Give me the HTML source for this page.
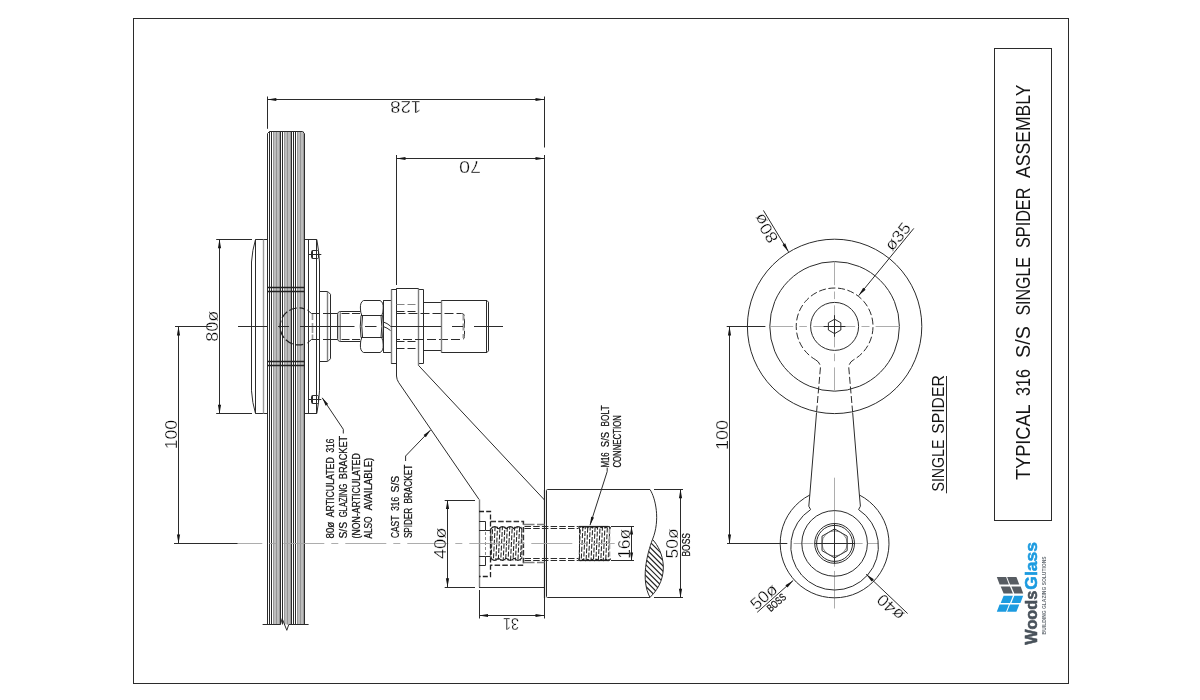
<!DOCTYPE html>
<html lang="en">
<head>
<meta charset="utf-8">
<title>Typical 316 S/S Single Spider Assembly</title>
<style>
html,body{margin:0;padding:0;background:#fff;}
body{width:1200px;height:700px;overflow:hidden;font-family:"Liberation Sans",sans-serif;}
svg{display:block;font-family:"Liberation Sans",sans-serif;}
.k{fill:none;stroke:#2b2b2b;stroke-width:1;}
.k2{fill:none;stroke:#222;stroke-width:1.3;}
.k3{fill:none;stroke:#333;stroke-width:1.5;}
.k5{fill:none;stroke:#555;stroke-width:0.7;}
.g2{fill:none;stroke:#8c8c8c;stroke-width:0.8;}
.g3{fill:none;stroke:#9a9a9a;stroke-width:1.4;}
.g4{fill:none;stroke:#9a9a9a;stroke-width:2;}
.g4n{fill:none;stroke:#9a9a9a;stroke-width:1.6;}
.g5{fill:none;stroke:#7e7e7e;stroke-width:1.4;}
.g5d{fill:none;stroke:#858585;stroke-width:1.2;}
.kt{fill:none;stroke:#222;stroke-width:1.05;}
.k4{fill:none;stroke:#222;stroke-width:1.2;}
.g4t{fill:none;stroke:#8a8a8a;stroke-width:1;}
.c{fill:none;stroke:#a4a4a4;stroke-width:0.9;}
.ah{fill:#161616;stroke:none;}
.t{fill:#000;stroke:#fff;stroke-width:0.34;}
.b{fill:#111;stroke:#111;stroke-width:0.25;}
.tt{fill:#151515;stroke:none;}
</style>
</head>
<body>
<svg width="1200" height="700" viewBox="0 0 1200 700">
<g style="will-change:opacity" opacity="0.9999">
<rect class="k" x="133.5" y="18.5" width="935" height="665"/>
<rect class="k" x="994.5" y="48.5" width="57" height="472"/>
<rect x="273.2" y="131.5" width="6.60" height="493.00" fill="#bcbcbc"/>
<line class="g2" x1="273.50" y1="131.50" x2="273.50" y2="624.50"/>
<line class="g2" x1="276.50" y1="131.50" x2="276.50" y2="624.50"/>
<line class="g2" x1="279.50" y1="131.50" x2="279.50" y2="624.50"/>
<rect x="284.6" y="131.5" width="6.00" height="493.00" fill="#bcbcbc"/>
<line class="g2" x1="284.50" y1="131.50" x2="284.50" y2="624.50"/>
<line class="g2" x1="287.50" y1="131.50" x2="287.50" y2="624.50"/>
<line class="g2" x1="290.50" y1="131.50" x2="290.50" y2="624.50"/>
<rect x="297.2" y="131.5" width="6.40" height="493.00" fill="#bcbcbc"/>
<line class="g2" x1="297.50" y1="131.50" x2="297.50" y2="624.50"/>
<line class="g2" x1="300.50" y1="131.50" x2="300.50" y2="624.50"/>
<line class="g2" x1="303.50" y1="131.50" x2="303.50" y2="624.50"/>
<line class="k" x1="269.50" y1="131.50" x2="269.50" y2="624.50"/>
<line class="k" x1="271.50" y1="131.50" x2="271.50" y2="624.50"/>
<line class="k" x1="280.50" y1="131.50" x2="280.50" y2="624.50"/>
<line class="k" x1="282.50" y1="131.50" x2="282.50" y2="624.50"/>
<line class="k" x1="291.50" y1="131.50" x2="291.50" y2="624.50"/>
<line class="k" x1="293.50" y1="131.50" x2="293.50" y2="624.50"/>
<line class="k" x1="295.50" y1="131.50" x2="295.50" y2="624.50"/>
<path class="k" d="M267.5,624.5 L267.5,133.5 L269.5,131.5 L302.5,131.5 L304.5,133.5 L304.5,624.5"/>
<path class="k" d="M262.6,624.5 L280.4,624.5 L282.2,618.6 L286.8,630.3 L288.8,624.5 L308.6,624.5"/>
<line class="k2" x1="267.50" y1="287.50" x2="304.50" y2="287.50"/>
<line class="k2" x1="267.50" y1="291.50" x2="304.50" y2="291.50"/>
<line class="k2" x1="267.50" y1="361.50" x2="304.50" y2="361.50"/>
<line class="k2" x1="267.50" y1="365.50" x2="304.50" y2="365.50"/>
<path class="k" d="M267.5,239.5 L255.5,239.5 Q252.3,250 251.5,262 L251.5,390.8 Q252.3,403 255.5,413.5 L267.5,413.5"/>
<line class="k" x1="255.50" y1="239.50" x2="255.50" y2="413.50"/>
<line class="g3" x1="263.50" y1="239.50" x2="263.50" y2="413.50"/>
<path class="k" d="M304.5,239.5 L316.8,239.5 Q318.8,250 319.5,262 L319.5,390.8 Q318.8,403 316.8,413.5 L304.5,413.5"/>
<line class="k" x1="308.50" y1="239.50" x2="308.50" y2="413.50"/>
<line class="k" x1="316.50" y1="239.50" x2="316.50" y2="413.50"/>
<rect class="k" x="311.5" y="250.50" width="7" height="8" rx="1"/>
<line class="k" x1="312.50" y1="250.50" x2="312.50" y2="258.50"/>
<line class="k" x1="308.80" y1="254.50" x2="321.30" y2="254.50"/>
<rect class="k" x="311.5" y="395.50" width="7" height="8" rx="1"/>
<line class="k" x1="312.50" y1="395.50" x2="312.50" y2="403.50"/>
<line class="k" x1="308.80" y1="399.50" x2="321.30" y2="399.50"/>
<path class="k" d="M319.5,291.5 L327.8,291.5 L330.5,294.3 L330.5,358.7 L327.8,361.5 L319.5,361.5"/>
<line class="g5" x1="327.50" y1="291.50" x2="327.50" y2="361.50"/>
<path class="k4" d="M304.32,308.81 A18.5,18.5 0 1 0 304.32,343.99" stroke-dasharray="8 2.5" stroke-dashoffset="3"/>
<path class="k" d="M307.3,310 L311.5,313.5"/>
<path class="k" d="M307.3,343 L311.5,339.5"/>
<line class="g4n" x1="312.50" y1="313.50" x2="312.50" y2="339.50" stroke-dasharray="6.5 3 10 1.5 4.5 3"/>
<line class="k" x1="311.50" y1="313.50" x2="319.20" y2="313.50"/>
<line class="k" x1="323.00" y1="313.50" x2="337.60" y2="313.50"/>
<line class="k" x1="311.50" y1="339.50" x2="319.20" y2="339.50"/>
<line class="k" x1="323.00" y1="339.50" x2="337.60" y2="339.50"/>
<path class="k" d="M360.5,311.5 L340.2,311.5 Q337.6,311.8 337.6,314.2 L337.6,338.8 Q337.6,341.2 340.2,341.5 L360.5,341.5"/>
<rect x="338.2" y="313.2" width="2.3" height="26.6" fill="#c4c4c4"/>
<line class="g4t" x1="340.50" y1="312.20" x2="340.50" y2="340.80"/>
<line class="k" x1="341.50" y1="313.50" x2="360.50" y2="313.50" stroke-dasharray="8 2.5"/>
<line class="k" x1="341.50" y1="339.50" x2="360.50" y2="339.50" stroke-dasharray="8 2.5"/>
<path class="k" d="M363.6,300.5 L380,300.5 Q383.5,302.0 383.2,308.0 Q383.2,312.5 381.8,315.5 M363.6,300.5 Q360.09999999999997,302.0 360.4,308.0 Q360.4,312.5 361.8,315.5"/>
<path class="k" d="M363.6,352.5 L380,352.5 Q383.5,351.0 383.2,345.0 Q383.2,340.5 381.8,337.5 M363.6,352.5 Q360.09999999999997,351.0 360.4,345.0 Q360.4,340.5 361.8,337.5"/>
<path class="k" d="M361.0,315.5 Q359.5,326.4 361.0,337.5 M362.6,315.5 Q361.0,326.4 362.6,337.5"/>
<path class="k" d="M382.6,315.5 Q384.09999999999997,326.4 382.6,337.5 M381.0,315.5 Q382.6,326.4 381.0,337.5"/>
<line class="k" x1="361.00" y1="315.50" x2="382.60" y2="315.50"/>
<line class="k" x1="361.00" y1="337.50" x2="382.60" y2="337.50"/>
<path class="k" d="M383.2,300.5 L391,300.5 M383.2,352.5 L391,352.5"/>
<line class="k" x1="383.50" y1="300.50" x2="383.50" y2="352.50"/>
<path class="k" d="M383.4,322 Q387,323 390.6,326.2 M383.4,326.6 Q387,327.6 390.6,330.6"/>
<path class="k" d="M391.2,289.5 L396.5,289.5 L396.5,288.5 L418.5,288.5 L418.5,289.5 L423.5,289.5 L423.5,363.5 L418.5,363.5"/>
<line class="g5" x1="391.50" y1="289.50" x2="391.50" y2="363.50"/>
<line class="k" x1="391.20" y1="363.50" x2="396.50" y2="363.50"/>
<line class="k" x1="396.50" y1="288.50" x2="396.50" y2="376.00"/>
<line class="g5" x1="418.50" y1="288.50" x2="418.50" y2="365.40"/>
<line class="g5d" x1="396.50" y1="304.50" x2="418.50" y2="304.50" stroke-dasharray="8 3"/>
<line class="k" x1="396.50" y1="348.50" x2="418.50" y2="348.50" stroke-dasharray="8 3"/>
<line class="k" x1="396.50" y1="311.50" x2="418.50" y2="311.50" stroke-dasharray="8 3"/>
<line class="k" x1="396.50" y1="341.50" x2="418.50" y2="341.50" stroke-dasharray="8 3"/>
<path class="k" d="M396.5,313.5 L461.5,313.5 Q464.5,313.5 464.5,316.5 L464.5,336.5 Q464.5,339.5 461.5,339.5 L396.5,339.5" stroke-dasharray="9 3"/>
<line class="g4" x1="463.50" y1="315.00" x2="463.50" y2="338.00" stroke-dasharray="5.5 3 7 3.5 4.5 3"/>
<path class="k" d="M423.5,302.5 L441.2,302.5 M423.5,350.5 L441.2,350.5"/>
<path class="k" d="M441.2,300.5 L487,300.5 L488.5,302.2 L488.5,350.8 L487,352.5 L441.2,352.5"/>
<line class="g5" x1="441.50" y1="300.50" x2="441.50" y2="352.50"/>
<line class="k" x1="486.50" y1="300.50" x2="486.50" y2="352.50"/>
<line class="k" x1="238.00" y1="326.50" x2="268.00" y2="326.50"/>
<line class="k" x1="278.00" y1="326.50" x2="289.00" y2="326.50"/>
<line class="k" x1="300.00" y1="326.50" x2="354.50" y2="326.50"/>
<line class="k" x1="365.00" y1="326.50" x2="376.50" y2="326.50"/>
<line class="k" x1="390.50" y1="326.50" x2="441.20" y2="326.50"/>
<line class="k" x1="452.00" y1="326.50" x2="463.00" y2="326.50"/>
<line class="k" x1="474.00" y1="326.50" x2="503.00" y2="326.50"/>
<path class="k" d="M396.5,376 Q396.7,379.5 398.6,382.4 L479,499.4"/>
<path class="k" d="M418.5,365.4 L544.5,500"/>
<line class="g5" x1="479.50" y1="499.40" x2="479.50" y2="587.20"/>
<line class="k" x1="479.00" y1="587.50" x2="544.50" y2="587.50"/>
<path class="k2" d="M479,511.5 L490.5,511.5 L490.5,576.5 L479,576.5" stroke-dasharray="5 2.2"/>
<path class="k3" d="M490.5,521.4 L523.4,521.4 L523.4,565.3 L490.5,565.3" stroke-dasharray="5.5 2.2"/>
<path class="k" d="M479,521.5 L485.5,521.5 L485.5,530.5 L490.5,530.5 M479,530.5 L485.5,530.5"/>
<path class="k" d="M479,565.5 L485.5,565.5 L485.5,556.5 L490.5,556.5 M479,556.5 L485.5,556.5"/>
<line class="g4t" x1="485.50" y1="532.00" x2="485.50" y2="555.00" stroke-dasharray="3 2"/>
<line class="k" x1="544.50" y1="96.50" x2="544.50" y2="147.50"/>
<line class="k" x1="544.50" y1="155.00" x2="544.50" y2="618.50"/>
<line class="k4" x1="544.50" y1="490.00" x2="544.50" y2="598.00"/>
<path class="k" d="M650,489.5 L547.5,489.5 Q546.5,489.5 546.5,490.5 L546.5,596.5 Q546.5,597.5 547.5,597.5 L650,597.5"/>
<path class="k" d="M650,489.5 C655.5,498 660.5,520 652.5,539.4 C647,554 640.5,580 650,597.4"/>
<path class="k" d="M652.5,539.4 C663.5,551 671,577 650,597.4"/>
<clipPath id="lens"><path d="M652.5,539.4 C663.5,551 671,577 650,597.4 C640.5,580 647,554 652.5,539.4 Z"/></clipPath>
<g clip-path="url(#lens)">
<line class="k4" x1="579.40" y1="520.00" x2="669.40" y2="610.00"/>
<line class="k4" x1="584.80" y1="520.00" x2="674.80" y2="610.00"/>
<line class="k4" x1="590.20" y1="520.00" x2="680.20" y2="610.00"/>
<line class="k4" x1="595.60" y1="520.00" x2="685.60" y2="610.00"/>
<line class="k4" x1="601.00" y1="520.00" x2="691.00" y2="610.00"/>
<line class="k4" x1="606.40" y1="520.00" x2="696.40" y2="610.00"/>
<line class="k4" x1="611.80" y1="520.00" x2="701.80" y2="610.00"/>
<line class="k4" x1="617.20" y1="520.00" x2="707.20" y2="610.00"/>
<line class="k4" x1="622.60" y1="520.00" x2="712.60" y2="610.00"/>
<line class="k4" x1="628.00" y1="520.00" x2="718.00" y2="610.00"/>
<line class="k4" x1="633.40" y1="520.00" x2="723.40" y2="610.00"/>
<line class="k4" x1="638.80" y1="520.00" x2="728.80" y2="610.00"/>
<line class="k4" x1="644.20" y1="520.00" x2="734.20" y2="610.00"/>
<line class="k4" x1="649.60" y1="520.00" x2="739.60" y2="610.00"/>
<line class="k4" x1="655.00" y1="520.00" x2="745.00" y2="610.00"/>
<line class="k4" x1="660.40" y1="520.00" x2="750.40" y2="610.00"/>
<line class="k4" x1="665.80" y1="520.00" x2="755.80" y2="610.00"/>
<line class="k4" x1="671.20" y1="520.00" x2="761.20" y2="610.00"/>
<line class="k4" x1="676.60" y1="520.00" x2="766.60" y2="610.00"/>
<line class="k4" x1="682.00" y1="520.00" x2="772.00" y2="610.00"/>
<line class="k4" x1="687.40" y1="520.00" x2="777.40" y2="610.00"/>
<line class="k4" x1="692.80" y1="520.00" x2="782.80" y2="610.00"/>
<line class="k4" x1="698.20" y1="520.00" x2="788.20" y2="610.00"/>
<line class="k4" x1="703.60" y1="520.00" x2="793.60" y2="610.00"/>
<line class="k4" x1="709.00" y1="520.00" x2="799.00" y2="610.00"/>
<line class="k4" x1="714.40" y1="520.00" x2="804.40" y2="610.00"/>
</g>
<line class="k" x1="524.50" y1="526.50" x2="578.60" y2="526.50" stroke-dasharray="6.5 2.2"/>
<line class="k" x1="524.50" y1="528.50" x2="578.60" y2="528.50" stroke-dasharray="6.5 2.2"/>
<line class="k" x1="524.50" y1="558.50" x2="578.60" y2="558.50" stroke-dasharray="6.5 2.2"/>
<line class="k" x1="524.50" y1="560.50" x2="578.60" y2="560.50" stroke-dasharray="6.5 2.2"/>
<line class="g5" x1="523.50" y1="524.50" x2="544.50" y2="524.50" stroke-dasharray="11 2.5 8 2"/>
<line class="g5" x1="523.50" y1="562.50" x2="544.50" y2="562.50" stroke-dasharray="11 2.5 8 2"/>
<clipPath id="th1"><rect x="490.8" y="526.7" width="31.00" height="33.70"/></clipPath>
<g clip-path="url(#th1)">
<line class="kt" x1="490.90" y1="561.40" x2="492.70" y2="525.70" stroke-dasharray="5 1.8" stroke-dashoffset="0.0"/>
<line class="kt" x1="493.35" y1="561.40" x2="495.15" y2="525.70" stroke-dasharray="5 1.8" stroke-dashoffset="3.7"/>
<line class="kt" x1="495.80" y1="561.40" x2="497.60" y2="525.70" stroke-dasharray="5 1.8" stroke-dashoffset="1.6"/>
<line class="kt" x1="498.25" y1="561.40" x2="500.05" y2="525.70" stroke-dasharray="5 1.8" stroke-dashoffset="5.2"/>
<line class="kt" x1="500.70" y1="561.40" x2="502.50" y2="525.70" stroke-dasharray="5 1.8" stroke-dashoffset="2.8"/>
<line class="kt" x1="503.15" y1="561.40" x2="504.95" y2="525.70" stroke-dasharray="5 1.8" stroke-dashoffset="0.8"/>
<line class="kt" x1="505.60" y1="561.40" x2="507.40" y2="525.70" stroke-dasharray="5 1.8" stroke-dashoffset="4.4"/>
<line class="kt" x1="508.05" y1="561.40" x2="509.85" y2="525.70" stroke-dasharray="5 1.8" stroke-dashoffset="2.0"/>
<line class="kt" x1="510.50" y1="561.40" x2="512.30" y2="525.70" stroke-dasharray="5 1.8" stroke-dashoffset="6.0"/>
<line class="kt" x1="512.95" y1="561.40" x2="514.75" y2="525.70" stroke-dasharray="5 1.8" stroke-dashoffset="3.2"/>
<line class="kt" x1="515.40" y1="561.40" x2="517.20" y2="525.70" stroke-dasharray="5 1.8" stroke-dashoffset="1.0"/>
<line class="kt" x1="517.85" y1="561.40" x2="519.65" y2="525.70" stroke-dasharray="5 1.8" stroke-dashoffset="4.8"/>
<line class="kt" x1="520.30" y1="561.40" x2="522.10" y2="525.70" stroke-dasharray="5 1.8" stroke-dashoffset="2.4"/>
</g>
<path class="k4" d="M490.80,528.90 Q494.68,524.50 498.55,528.90 M498.55,528.90 Q502.43,524.50 506.30,528.90 M506.30,528.90 Q510.17,524.50 514.05,528.90 M514.05,528.90 Q517.92,524.50 521.80,528.90 M490.80,558.20 Q494.68,562.60 498.55,558.20 M498.55,558.20 Q502.43,562.60 506.30,558.20 M506.30,558.20 Q510.17,562.60 514.05,558.20 M514.05,558.20 Q517.92,562.60 521.80,558.20 "/>
<path class="k" d="M490.8,528.5 L490.8,558.6 M521.8,528.5 L521.8,558.6" stroke-dasharray="4 1.6"/>
<clipPath id="th2"><rect x="578.6" y="526.5" width="31.80" height="34.10"/></clipPath>
<g clip-path="url(#th2)">
<line class="kt" x1="578.70" y1="561.60" x2="580.50" y2="525.50" stroke-dasharray="5 1.8" stroke-dashoffset="0.0"/>
<line class="kt" x1="581.15" y1="561.60" x2="582.95" y2="525.50" stroke-dasharray="5 1.8" stroke-dashoffset="3.7"/>
<line class="kt" x1="583.60" y1="561.60" x2="585.40" y2="525.50" stroke-dasharray="5 1.8" stroke-dashoffset="1.6"/>
<line class="kt" x1="586.05" y1="561.60" x2="587.85" y2="525.50" stroke-dasharray="5 1.8" stroke-dashoffset="5.2"/>
<line class="kt" x1="588.50" y1="561.60" x2="590.30" y2="525.50" stroke-dasharray="5 1.8" stroke-dashoffset="2.8"/>
<line class="kt" x1="590.95" y1="561.60" x2="592.75" y2="525.50" stroke-dasharray="5 1.8" stroke-dashoffset="0.8"/>
<line class="kt" x1="593.40" y1="561.60" x2="595.20" y2="525.50" stroke-dasharray="5 1.8" stroke-dashoffset="4.4"/>
<line class="kt" x1="595.85" y1="561.60" x2="597.65" y2="525.50" stroke-dasharray="5 1.8" stroke-dashoffset="2.0"/>
<line class="kt" x1="598.30" y1="561.60" x2="600.10" y2="525.50" stroke-dasharray="5 1.8" stroke-dashoffset="6.0"/>
<line class="kt" x1="600.75" y1="561.60" x2="602.55" y2="525.50" stroke-dasharray="5 1.8" stroke-dashoffset="3.2"/>
<line class="kt" x1="603.20" y1="561.60" x2="605.00" y2="525.50" stroke-dasharray="5 1.8" stroke-dashoffset="1.0"/>
<line class="kt" x1="605.65" y1="561.60" x2="607.45" y2="525.50" stroke-dasharray="5 1.8" stroke-dashoffset="4.8"/>
<line class="kt" x1="608.10" y1="561.60" x2="609.90" y2="525.50" stroke-dasharray="5 1.8" stroke-dashoffset="2.4"/>
</g>
<path class="k4" d="M578.60,528.00 Q580.87,525.00 583.14,528.00 M583.14,528.00 Q585.41,525.00 587.69,528.00 M587.69,528.00 Q589.96,525.00 592.23,528.00 M592.23,528.00 Q594.50,525.00 596.77,528.00 M596.77,528.00 Q599.04,525.00 601.31,528.00 M601.31,528.00 Q603.59,525.00 605.86,528.00 M605.86,528.00 Q608.13,525.00 610.40,528.00 M578.60,559.10 Q580.87,562.10 583.14,559.10 M583.14,559.10 Q585.41,562.10 587.69,559.10 M587.69,559.10 Q589.96,562.10 592.23,559.10 M592.23,559.10 Q594.50,562.10 596.77,559.10 M596.77,559.10 Q599.04,562.10 601.31,559.10 M601.31,559.10 Q603.59,562.10 605.86,559.10 M605.86,559.10 Q608.13,562.10 610.40,559.10 "/>
<line class="k4" x1="578.60" y1="526.50" x2="608.40" y2="526.50"/>
<line class="k4" x1="578.60" y1="560.50" x2="608.40" y2="560.50"/>
<line class="k" x1="579.50" y1="528.00" x2="579.50" y2="559.00" stroke-dasharray="5 1.5"/>
<path class="k" d="M608.4,526.5 Q610.4,526.7 610.4,528.7 M608.4,560.6 Q610.4,560.4 610.4,558.4"/>
<line class="g4n" x1="609.50" y1="529.00" x2="609.50" y2="558.00" stroke-dasharray="5 2.5"/>
<line class="c" x1="221.30" y1="543.50" x2="614.70" y2="543.50" stroke-dasharray="41 7 7 7"/>
<line class="k" x1="267.50" y1="96.50" x2="267.50" y2="128.80"/>
<line class="k" x1="267.30" y1="99.50" x2="544.50" y2="99.50"/>
<polygon class="ah" points="267.30,99.50 276.30,97.90 276.30,101.10"/>
<polygon class="ah" points="544.50,99.50 535.50,101.10 535.50,97.90"/>
<text class="t" transform="translate(421.22 101.00) rotate(180.00)" font-size="16.40" textLength="31.04" lengthAdjust="spacingAndGlyphs">128</text>
<line class="k" x1="396.50" y1="155.00" x2="396.50" y2="285.00"/>
<line class="k" x1="396.50" y1="158.50" x2="544.50" y2="158.50"/>
<polygon class="ah" points="396.50,158.50 405.50,156.90 405.50,160.10"/>
<polygon class="ah" points="544.50,158.50 535.50,160.10 535.50,156.90"/>
<text class="t" transform="translate(481.02 160.90) rotate(180.00)" font-size="16.40" textLength="21.84" lengthAdjust="spacingAndGlyphs">70</text>
<line class="k" x1="216.20" y1="239.50" x2="252.00" y2="239.50"/>
<line class="k" x1="216.20" y1="413.50" x2="252.00" y2="413.50"/>
<line class="k" x1="219.50" y1="239.50" x2="219.50" y2="413.50"/>
<polygon class="ah" points="219.50,239.20 221.10,248.20 217.90,248.20"/>
<polygon class="ah" points="219.50,413.80 217.90,404.80 221.10,404.80"/>
<text class="t" transform="translate(217.60 341.82) rotate(-90.00)" font-size="16.40" textLength="31.14" lengthAdjust="spacingAndGlyphs">80&#248;</text>
<line class="k" x1="175.00" y1="326.50" x2="212.00" y2="326.50"/>
<line class="k" x1="174.00" y1="543.50" x2="237.50" y2="543.50"/>
<line class="k" x1="178.50" y1="326.40" x2="178.50" y2="543.40"/>
<polygon class="ah" points="178.50,326.40 180.10,335.40 176.90,335.40"/>
<polygon class="ah" points="178.50,543.40 176.90,534.40 180.10,534.40"/>
<text class="t" transform="translate(176.70 449.32) rotate(-90.00)" font-size="16.40" textLength="29.44" lengthAdjust="spacingAndGlyphs">100</text>
<line class="k" x1="444.70" y1="500.50" x2="475.00" y2="500.50"/>
<line class="k" x1="444.70" y1="587.50" x2="475.00" y2="587.50"/>
<line class="k" x1="447.50" y1="500.00" x2="447.50" y2="587.20"/>
<polygon class="ah" points="447.50,500.00 449.10,509.00 445.90,509.00"/>
<polygon class="ah" points="447.50,587.20 445.90,578.20 449.10,578.20"/>
<text class="t" transform="translate(445.80 559.02) rotate(-90.00)" font-size="16.40" textLength="31.34" lengthAdjust="spacingAndGlyphs">40&#248;</text>
<line class="k" x1="479.50" y1="590.00" x2="479.50" y2="618.50"/>
<line class="k" x1="479.00" y1="615.50" x2="544.50" y2="615.50"/>
<polygon class="ah" points="479.00,615.50 488.00,613.90 488.00,617.10"/>
<polygon class="ah" points="544.50,615.50 535.50,617.10 535.50,613.90"/>
<text class="t" transform="translate(519.02 617.80) rotate(180.00)" font-size="16.40" textLength="16.04" lengthAdjust="spacingAndGlyphs">31</text>
<line class="k" x1="611.00" y1="526.50" x2="634.00" y2="526.50"/>
<line class="k" x1="611.00" y1="560.50" x2="634.00" y2="560.50"/>
<line class="k" x1="631.50" y1="526.40" x2="631.50" y2="560.60"/>
<polygon class="ah" points="631.50,526.40 633.10,534.40 629.90,534.40"/>
<polygon class="ah" points="631.50,560.60 629.90,552.60 633.10,552.60"/>
<text class="t" transform="translate(629.60 558.82) rotate(-90.00)" font-size="16.40" textLength="30.04" lengthAdjust="spacingAndGlyphs">16&#248;</text>
<line class="k" x1="654.00" y1="489.50" x2="683.00" y2="489.50"/>
<line class="k" x1="654.00" y1="597.50" x2="683.00" y2="597.50"/>
<line class="k" x1="680.50" y1="489.50" x2="680.50" y2="597.50"/>
<polygon class="ah" points="680.50,489.20 682.10,498.20 678.90,498.20"/>
<polygon class="ah" points="680.50,597.80 678.90,588.80 682.10,588.80"/>
<text class="t" transform="translate(678.20 558.42) rotate(-90.00)" font-size="16.40" textLength="30.24" lengthAdjust="spacingAndGlyphs">50&#248;</text>
<text class="t b" transform="translate(689.80 556.53) rotate(-90.00)" font-size="10.60" textLength="23.46" lengthAdjust="spacingAndGlyphs">BOSS</text>
<text class="t b" transform="translate(334.30 538.00) rotate(-90)" font-size="10.60"><tspan x="-0.53" textLength="16.76" lengthAdjust="spacingAndGlyphs">80&#248;</tspan> <tspan x="20.67" textLength="60.16" lengthAdjust="spacingAndGlyphs">ARTICULATED</tspan> <tspan x="85.47" textLength="13.76" lengthAdjust="spacingAndGlyphs">316</tspan></text>
<text class="t b" transform="translate(346.80 538.00) rotate(-90)" font-size="10.60"><tspan x="-0.53" textLength="16.56" lengthAdjust="spacingAndGlyphs">S/S</tspan> <tspan x="20.67" textLength="33.66" lengthAdjust="spacingAndGlyphs">GLAZING</tspan> <tspan x="58.77" textLength="43.46" lengthAdjust="spacingAndGlyphs">BRACKET</tspan></text>
<text class="t b" transform="translate(359.50 538.00) rotate(-90)" font-size="10.60"><tspan x="-0.53" textLength="85.26" lengthAdjust="spacingAndGlyphs">(NON-ARTICULATED</tspan></text>
<text class="t b" transform="translate(372.20 538.00) rotate(-90)" font-size="10.60"><tspan x="-0.53" textLength="22.06" lengthAdjust="spacingAndGlyphs">ALSO</tspan> <tspan x="27.67" textLength="52.56" lengthAdjust="spacingAndGlyphs">AVAILABLE)</tspan></text>
<path class="k" d="M343.3,433.5 L343.3,429.3 L322.2,397.8"/>
<polygon class="ah" points="322.20,397.80 328.18,404.03 325.68,405.70"/>
<text class="t b" transform="translate(399.30 537.60) rotate(-90)" font-size="10.60"><tspan x="-0.53" textLength="22.36" lengthAdjust="spacingAndGlyphs">CAST</tspan> <tspan x="26.77" textLength="13.86" lengthAdjust="spacingAndGlyphs">316</tspan> <tspan x="45.07" textLength="16.76" lengthAdjust="spacingAndGlyphs">S/S</tspan></text>
<text class="t b" transform="translate(411.50 537.60) rotate(-90)" font-size="10.60"><tspan x="-0.53" textLength="30.26" lengthAdjust="spacingAndGlyphs">SPIDER</tspan> <tspan x="34.07" textLength="38.76" lengthAdjust="spacingAndGlyphs">BRACKET</tspan></text>
<path class="k" d="M405.6,461 L405.6,456 L430.6,430"/>
<polygon class="ah" points="430.60,430.00 425.79,437.17 423.63,435.09"/>
<text class="t b" transform="translate(608.90 467.10) rotate(-90)" font-size="10.60"><tspan x="-0.53" textLength="15.26" lengthAdjust="spacingAndGlyphs">M16</tspan> <tspan x="19.97" textLength="15.36" lengthAdjust="spacingAndGlyphs">S/S</tspan> <tspan x="40.57" textLength="21.06" lengthAdjust="spacingAndGlyphs">BOLT</tspan></text>
<text class="t b" transform="translate(621.10 467.10) rotate(-90)" font-size="10.60"><tspan x="-0.53" textLength="52.46" lengthAdjust="spacingAndGlyphs">CONNECTION</tspan></text>
<path class="k" d="M607.2,467.6 L607.2,471.5 L590,525.2"/>
<polygon class="ah" points="590.00,525.20 591.16,516.65 594.02,517.56"/>
<circle class="k" cx="834.60" cy="326.40" r="87.20"/>
<circle class="k" cx="834.60" cy="326.40" r="64.80"/>
<circle class="k" cx="834.60" cy="326.40" r="24.00"/>
<path class="k" d="M815.3,359.6 A38.4,38.4 0 1 1 853.90,359.6" stroke-dasharray="7 2.6" stroke-dashoffset="2"/>
<polygon class="k" points="834.60,319.20 840.84,322.80 840.84,330.00 834.60,333.60 828.36,330.00 828.36,322.80"/>
<line class="c" x1="769.80" y1="326.50" x2="793.20" y2="326.50"/>
<line class="c" x1="799.30" y1="326.50" x2="806.90" y2="326.50"/>
<line class="c" x1="813.30" y1="326.50" x2="855.20" y2="326.50"/>
<line class="c" x1="861.50" y1="326.50" x2="869.50" y2="326.50"/>
<line class="c" x1="875.60" y1="326.50" x2="899.60" y2="326.50"/>
<line class="c" x1="834.50" y1="261.80" x2="834.50" y2="285.20"/>
<line class="c" x1="834.50" y1="291.50" x2="834.50" y2="299.10"/>
<line class="c" x1="834.50" y1="305.40" x2="834.50" y2="347.40"/>
<line class="c" x1="834.50" y1="353.60" x2="834.50" y2="361.20"/>
<line class="c" x1="834.50" y1="367.40" x2="834.50" y2="391.00"/>
<line class="c" x1="834.50" y1="477.70" x2="834.50" y2="608.50" stroke-dasharray="89 4.2 40"/>
<line class="c" x1="790.60" y1="543.50" x2="878.40" y2="543.50" stroke-dasharray="20 5 7 5" stroke-dashoffset="-3"/>
<line class="k" x1="823.60" y1="326.50" x2="845.40" y2="326.50"/>
<line class="k" x1="834.50" y1="315.20" x2="834.50" y2="336.80"/>
<path class="k" d="M815.3,359.6 Q820.6,362.5 820.4,368 L816.5,413.0" stroke-dasharray="7 2.6"/>
<path class="k" d="M853.90,359.6 Q848.60,362.5 848.80,368 L852.70,413.0" stroke-dasharray="7 2.6"/>
<path class="k" d="M816.5,413.0 L809.8,495.0 L808.8,506.2 L810.6,509.6"/>
<path class="k" d="M852.70,413.0 L859.40,495.0 L860.40,506.2 L858.60,509.6"/>
<path class="k" d="M809.8,495.0 A54.4,54.4 0 1 0 859.40,495.0"/>
<path class="k" d="M810.6,509.6 A43.8,43.8 0 1 0 858.60,509.6"/>
<circle class="k" cx="834.60" cy="543.40" r="32.80"/>
<circle class="k" cx="834.60" cy="543.40" r="19.90"/>
<circle class="k" cx="834.60" cy="543.40" r="18.00"/>
<polygon class="k" points="834.60,528.90 847.16,536.15 847.16,550.65 834.60,557.90 822.04,550.65 822.04,536.15"/>
<circle class="k5" cx="834.60" cy="543.40" r="12.60"/>
<line class="k" x1="814.40" y1="543.50" x2="855.30" y2="543.50"/>
<line class="k" x1="834.50" y1="523.10" x2="834.50" y2="563.60"/>
<line class="k" x1="726.70" y1="326.50" x2="765.40" y2="326.50"/>
<line class="k" x1="727.00" y1="543.50" x2="787.30" y2="543.50"/>
<line class="k" x1="729.50" y1="326.40" x2="729.50" y2="543.40"/>
<polygon class="ah" points="729.50,326.40 731.10,335.40 727.90,335.40"/>
<polygon class="ah" points="729.50,543.40 727.90,534.40 731.10,534.40"/>
<text class="t" transform="translate(728.20 450.12) rotate(-90.00)" font-size="16.40" textLength="30.04" lengthAdjust="spacingAndGlyphs">100</text>
<line class="k" x1="763.40" y1="210.40" x2="788.50" y2="251.80"/>
<polygon class="ah" points="788.50,251.80 782.47,244.93 785.20,243.27"/>
<text class="t" transform="translate(778.74 238.79) rotate(-121.23)" font-size="16.40" textLength="31.14" lengthAdjust="spacingAndGlyphs">80&#248;</text>
<line class="k" x1="913.80" y1="228.40" x2="858.70" y2="295.60"/>
<polygon class="ah" points="858.70,295.60 863.17,287.63 865.64,289.65"/>
<text class="t" transform="translate(892.30 251.79) rotate(-50.65)" font-size="16.40" textLength="30.64" lengthAdjust="spacingAndGlyphs">&#248;35</text>
<line class="k" x1="757.20" y1="612.30" x2="793.20" y2="580.40"/>
<polygon class="ah" points="793.20,580.40 787.53,587.57 785.40,585.17"/>
<text class="t" transform="translate(756.14 610.83) rotate(-41.54)" font-size="16.40" textLength="30.24" lengthAdjust="spacingAndGlyphs">50&#248;</text>
<text class="t b" transform="translate(770.71 612.35) rotate(-41.54)" font-size="10.40" textLength="21.44" lengthAdjust="spacingAndGlyphs">BOSS</text>
<line class="k" x1="907.60" y1="613.50" x2="866.20" y2="574.20"/>
<polygon class="ah" points="866.20,574.20 873.83,579.24 871.63,581.56"/>
<text class="t" transform="translate(905.50 613.99) rotate(-136.49)" font-size="16.40" textLength="30.64" lengthAdjust="spacingAndGlyphs">&#248;40</text>
<text class="tt" transform="translate(943.90 490.70) rotate(-90)" font-size="17.00"><tspan x="-0.85" textLength="52.00" lengthAdjust="spacingAndGlyphs">SINGLE</tspan> <tspan x="56.95" textLength="58.60" lengthAdjust="spacingAndGlyphs">SPIDER</tspan></text>
<line class="k" x1="946.50" y1="376.00" x2="946.50" y2="493.30"/>
<text class="tt" transform="translate(1030.20 479.00) rotate(-90)" font-size="20.20"><tspan x="-1.01" textLength="75.02" lengthAdjust="spacingAndGlyphs">TYPICAL</tspan> <tspan x="82.99" textLength="27.02" lengthAdjust="spacingAndGlyphs">316</tspan> <tspan x="120.99" textLength="32.02" lengthAdjust="spacingAndGlyphs">S/S</tspan> <tspan x="163.39" textLength="58.62" lengthAdjust="spacingAndGlyphs">SINGLE</tspan> <tspan x="230.99" textLength="60.42" lengthAdjust="spacingAndGlyphs">SPIDER</tspan> <tspan x="300.99" textLength="93.52" lengthAdjust="spacingAndGlyphs">ASSEMBLY</tspan></text>
<polygon fill="#575c62" points="996.8,577.1 1006.1,577.1 1008.9,584.6 999.6,584.6"/>
<polygon fill="#575c62" points="1007.1,577.1 1016.4,577.1 1019.3,584.6 1010.0,584.6"/>
<polygon fill="#575c62" points="1000.7,586.4 1010.0,586.4 1012.9,593.6 1003.6,593.6"/>
<polygon fill="#575c62" points="1011.4,586.4 1020.7,586.4 1023.2,593.6 1014.3,593.6"/>
<polygon fill="#1c9be0" points="1003.6,595.7 1012.9,595.7 1010.0,602.9 1000.7,602.9"/>
<polygon fill="#1c9be0" points="1014.3,595.7 1023.2,595.7 1020.4,602.9 1011.4,602.9"/>
<polygon fill="#1c9be0" points="999.6,604.6 1008.9,604.6 1006.1,611.8 996.8,611.8"/>
<polygon fill="#1c9be0" points="1010.0,604.6 1019.3,604.6 1016.4,611.8 1007.1,611.8"/>
<text transform="translate(1037.0 644.7) rotate(-90)" font-size="16.8" font-weight="bold" stroke-width="0.55" stroke-linejoin="round"><tspan x="0" textLength="54" lengthAdjust="spacingAndGlyphs" fill="#48515a" stroke="#48515a">Woods</tspan><tspan x="55.0" textLength="47.8" lengthAdjust="spacingAndGlyphs" fill="#1c9be0" stroke="#1c9be0">Glass</tspan></text>
<text transform="translate(1045.8 634.4) rotate(-90)" font-size="4.8" font-weight="bold" fill="#666d74" textLength="78" lengthAdjust="spacingAndGlyphs">BUILDING GLAZING SOLUTIONS</text>
</g>
</svg>
</body>
</html>
